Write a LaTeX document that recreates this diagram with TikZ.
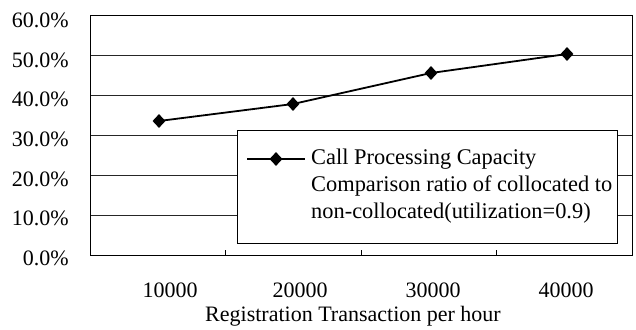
\documentclass[tikz,border=0pt]{standalone}
\usepackage{fontspec}
\setmainfont{Liberation Serif}
\usetikzlibrary{shapes.geometric}
\begin{document}
\begin{tikzpicture}[x=1pt,y=-1pt,
  grid/.style={line width=0.9pt,black!85},
  frame/.style={line width=1pt,black},
  dataline/.style={line width=1.8pt,black},
  datamark/.style={diamond,fill=black,inner sep=0pt,minimum width=13pt,minimum height=14pt},
  ylab/.style={anchor=east,inner sep=0pt,font=\fontsize{22}{25}\selectfont},
  xlab/.style={anchor=center,inner sep=0pt,font=\fontsize{22}{25}\selectfont},
  legtext/.style={anchor=north west,inner sep=0pt,align=left,font=\fontsize{22.4}{27}\selectfont}]
\useasboundingbox (0,0) rectangle (636,329);
% gridlines
\foreach \y in {55.8,95.6,135.5,175.3,215.2}
  \draw[grid] (90,\y) -- (632,\y);
% frame
\draw[frame] (90,16) rectangle (632,255);
% ticks
\foreach \x in {225.5,361,496.5}
  \draw[frame] (\x,255) -- (\x,250);
% y labels
\node[ylab] (y60) at (69,20) {60.0\%};
\node[ylab] (y50) at (69,60) {50.0\%};
\node[ylab] (y40) at (69,99) {40.0\%};
\node[ylab] (y30) at (69,139) {30.0\%};
\node[ylab] (y20) at (69,179) {20.0\%};
\node[ylab] (y10) at (69,218) {10.0\%};
\node[ylab] (y0) at (69,258) {0.0\%};
% x labels
\node[xlab] (x1) at (170,290) {10000};
\node[xlab] (x2) at (300,290) {20000};
\node[xlab] (x3) at (433,290) {30000};
\node[xlab] (x4) at (566,290) {40000};
\node[xlab] (xt) at (353,316) {Registration Transaction per hour};
% data
\node[datamark] (p1) at (159,121) {};
\node[datamark] (p2) at (293,104) {};
\node[datamark] (p3) at (431,73) {};
\node[datamark] (p4) at (567,54) {};
\draw[dataline] (p1.center) -- (p2.center) -- (p3.center) -- (p4.center);
% legend
\draw[frame,fill=white] (237,130) rectangle (617,243);
\coordinate (la) at (247,159);
\coordinate (lb) at (305,159);
\draw[dataline] (la) -- (lb);
\node[datamark] (lm) at (276,159) {};
\node[legtext] (lt) at (311,149) {Call Processing Capacity\\Comparison ratio of collocated to\\non-collocated(utilization=0.9)};
\end{tikzpicture}
\end{document}
